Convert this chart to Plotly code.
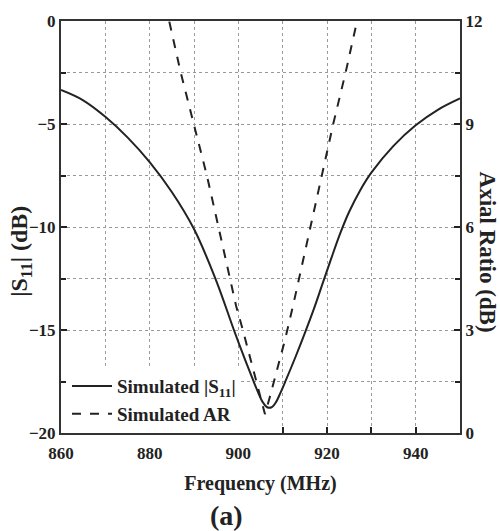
import plotly.graph_objects as go

freq_s11 = [860, 865, 870, 875, 880, 885, 890, 895, 899, 901, 903, 904.5, 905.5, 906.5, 907.5, 908.5,
            909.5, 910.7, 913, 915, 917, 919, 921, 923, 925, 927.5, 930, 935, 940, 945, 950]
s11_db = [-3.35, -3.85, -4.65, -5.65, -6.85, -8.3, -10.1, -12.6, -15.0, -16.15, -17.25, -18.05, -18.5, -18.75,
          -18.75, -18.5, -18.05, -17.45, -16.25, -15.15, -14.0, -12.75, -11.5, -10.3, -9.26, -8.21, -7.36,
          -6.06, -5.06, -4.31, -3.76]

freq_ar = [882.5, 884.4, 887.0, 889.9, 892.9, 895.0, 897.2, 899.5, 901.1, 902.6, 904.1, 905.2, 906.0,
           907.0, 908.5, 910.5, 912.5, 914.5, 916.5, 918.6, 921.4, 924.2, 926.8, 928.5]
ar_db = [13.0, 12.0, 10.5, 9.0, 7.5, 6.3, 5.0, 3.7, 2.96, 2.2, 1.46, 0.9, 0.55,
         1.0, 1.7, 2.7, 3.8, 4.95, 6.1, 7.35, 9.0, 10.5, 12.0, 13.0]

x_ticks = [860, 880, 900, 920, 940]
y_ticks = [0, -5, -10, -15, -20]
y2_ticks = [0, 3, 6, 9, 12]

FONT = "Liberation Serif, Times New Roman, serif"
INK = "#222222"

fig = go.Figure()
fig.add_trace(go.Scatter(x=freq_s11, y=s11_db, mode="lines", name="Simulated |S<sub>11</sub>|",
                         line=dict(color=INK, width=2, shape="spline", smoothing=1.0)))
fig.add_trace(go.Scatter(x=freq_ar, y=ar_db, mode="lines", name="Simulated AR", yaxis="y2",
                         line=dict(color=INK, width=2, dash="dash")))

tickfont = dict(family=FONT, size=17, color=INK, weight="bold")
grid = dict(showgrid=True, gridcolor="#9a9a9a", gridwidth=1, griddash="dot")

fig.update_layout(
    width=500, height=531,
    margin=dict(l=61, r=40, t=15, b=98),
    paper_bgcolor="white", plot_bgcolor="white",
    font=dict(family=FONT, color=INK),
    showlegend=True,
    legend=dict(x=0.015, y=0.16, xanchor="left", yanchor="top", bgcolor="white",
                font=dict(family=FONT, size=19, color=INK, weight="bold"),
                tracegroupgap=0, itemwidth=40),
    xaxis=dict(range=[860, 950], tickvals=x_ticks, ticks="inside", ticklen=6, tickwidth=1.5, tickcolor=INK,
               showline=True, linecolor="#333333", linewidth=2, mirror=True, zeroline=False,
               tickfont=tickfont, ticklabelstandoff=4, **grid,
               minor=dict(dtick=10, tick0=860, ticks="inside", ticklen=6, tickcolor=INK, showgrid=True,
                          gridcolor="#9a9a9a", griddash="dot"),
               title=dict(text="Frequency (MHz)", font=dict(family=FONT, size=20, color=INK, weight="bold"),
                          standoff=14)),
    yaxis=dict(range=[-20, 0], tickvals=y_ticks, ticks="inside", ticklen=6, tickwidth=1.5, tickcolor=INK,
               showline=True, linecolor="#333333", linewidth=2, zeroline=False, tickfont=tickfont, **grid,
               minor=dict(dtick=2.5, tick0=0, ticks="inside", ticklen=5, tickcolor=INK, showgrid=True,
                          gridcolor="#9a9a9a", griddash="dot")),
    yaxis2=dict(range=[0, 12], tickvals=y2_ticks, overlaying="y", side="right", ticks="inside", ticklen=6,
                tickwidth=1.5, tickcolor=INK, showline=True, linecolor="#333333", linewidth=2,
                zeroline=False, showgrid=False, tickfont=tickfont,
                minor=dict(dtick=1.5, tick0=0, ticks="inside", ticklen=5, tickcolor=INK, showgrid=False)),
)

fig.add_annotation(text="|S<sub>11</sub>| (dB)", xref="paper", yref="paper", x=-0.1, y=0.44,
                   textangle=-90, showarrow=False, xanchor="center", yanchor="middle",
                   font=dict(family=FONT, size=24, color=INK, weight="bold"))
fig.add_annotation(text="Axial Ratio (dB)", xref="paper", yref="paper", x=1.068, y=0.44,
                   textangle=90, showarrow=False, xanchor="center", yanchor="middle",
                   font=dict(family=FONT, size=23, color=INK, weight="bold"))
fig.add_annotation(text="(a)", xref="paper", yref="paper", x=0.415, y=-0.2,
                   showarrow=False, xanchor="center", yanchor="middle",
                   font=dict(family=FONT, size=28, color=INK, weight="bold"))

fig.write_html("out.html")
